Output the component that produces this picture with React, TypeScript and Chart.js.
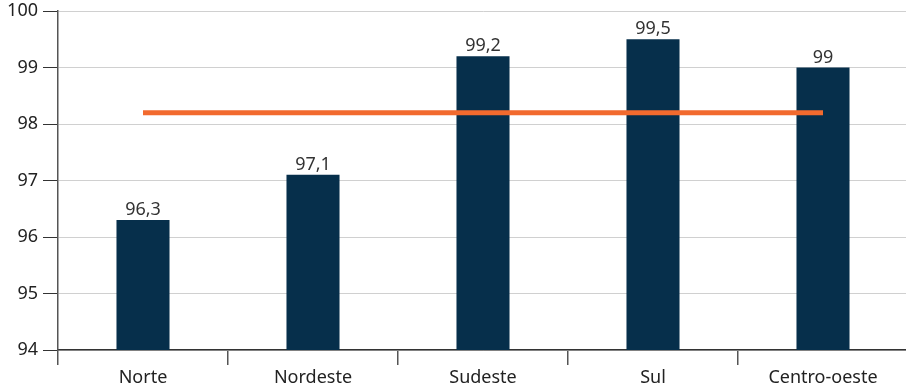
import React, { useEffect, useRef } from "react";
import { Chart, registerables } from "chart.js";

Chart.register(...registerables);

const categories = ["Norte", "Nordeste", "Sudeste", "Sul", "Centro-oeste"];
const values = [96.3, 97.1, 99.2, 99.5, 99.0];
const valueLabels = ["96,3", "97,1", "99,2", "99,5", "99"];
const brazilAverage = [98.2, 98.2, 98.2, 98.2, 98.2];

const FONT = "'Noto Sans', 'Open Sans', sans-serif";

const labelPlugin = {
  id: "barLabels",
  afterDatasetsDraw(chart: any) {
    const ctx = chart.ctx;
    const meta = chart.getDatasetMeta(1);
    ctx.save();
    ctx.font = `18px ${FONT}`;
    ctx.fillStyle = "#333333";
    ctx.textAlign = "center";
    ctx.textBaseline = "bottom";
    meta.data.forEach((el: any, i: number) => {
      ctx.fillText(valueLabels[i], el.x, el.y - 1);
    });
    ctx.restore();
  },
};

export default function App() {
  const ref = useRef<HTMLCanvasElement>(null);
  useEffect(() => {
    if (!ref.current) return;
    const chart = new Chart(ref.current, {
      type: "bar",
      data: {
        labels: categories,
        datasets: [
          {
            type: "line",
            data: brazilAverage,
            borderColor: "#f26a2e",
            borderWidth: 5,
            pointRadius: 0,
            fill: false,
            order: 0,
          } as any,
          {
            type: "bar",
            data: values,
            backgroundColor: "#062f4b",
            borderWidth: 0,
            barPercentage: 0.312,
            categoryPercentage: 1,
            order: 1,
          },
        ],
      },
      options: {
        animation: false,
        responsive: false,
        maintainAspectRatio: false,
        layout: { padding: { top: 11, right: 2, left: 0, bottom: 0 } },
        plugins: {
          legend: { display: false },
          tooltip: { enabled: false },
        },
        scales: {
          x: {
            offset: true,
            grid: {
              display: true,
              offset: true,
              drawOnChartArea: false,
              drawTicks: true,
              tickLength: 15,
              tickColor: "#555555",
              lineWidth: 1.5,
            },
            border: { display: true, color: "#333333", width: 1.5 },
            ticks: {
              color: "#222222",
              font: { family: FONT, size: 18 },
              padding: 2,
            },
            afterFit(scale: any) {
              scale.height = 41;
              scale.paddingLeft = 0;
              scale.paddingRight = 0;
            },
          },
          y: {
            min: 94,
            max: 100,
            grid: {
              color: "#d0d0d0",
              lineWidth: 1,
              tickLength: 15,
              tickColor: "#333333",
            },
            border: { display: true, color: "#555555", width: 1.5 },
            ticks: {
              stepSize: 1,
              color: "#222222",
              font: { family: FONT, size: 18 },
              padding: 5,
            },
            afterFit(scale: any) {
              scale.width = 58;
              scale.paddingTop = 0;
              scale.paddingBottom = 0;
            },
          },
        },
      },
      plugins: [labelPlugin],
    });
    return () => chart.destroy();
  }, []);
  return (
    <div style={{ position: "fixed", left: 0, top: 0, width: 906, height: 391, overflow: "hidden", background: "#fff" }}>
      <canvas ref={ref} width={910} height={391} />
    </div>
  );
}
